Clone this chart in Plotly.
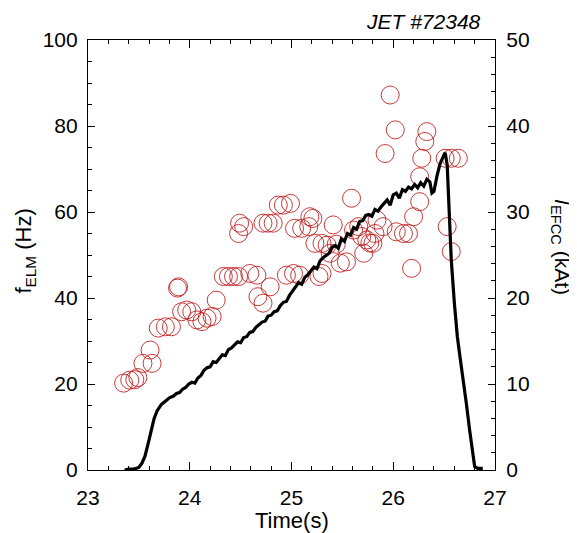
import plotly.graph_objects as go

# ---- data ----
elm_time = [23.35, 23.41, 23.46, 23.49, 23.54, 23.63, 23.61, 23.69, 23.76, 23.82,
            23.89, 23.88, 23.92, 23.97, 24.02, 24.07, 24.12, 24.17, 24.22, 24.26,
            24.33, 24.38, 24.43, 24.48, 24.48, 24.49, 24.53, 24.59, 24.66, 24.67,
            24.72, 24.79, 24.72, 24.77, 24.82, 24.87, 24.92, 24.99, 24.95, 25.02,
            25.08, 25.03, 25.10, 25.17, 25.18, 25.21, 25.23, 25.30, 25.35, 25.30,
            25.41, 25.38, 25.48, 25.54, 25.59, 25.61, 25.66, 25.69, 25.74, 25.71,
            25.77, 25.82, 25.84, 25.97, 26.02, 25.92, 26.33, 26.31, 26.28, 26.26,
            26.26, 26.20, 26.51, 26.57, 26.64, 26.53, 26.57, 26.18, 26.03, 26.10,
            26.15, 25.90, 25.80, 25.44, 25.27]
elm_freq = [20.2, 20.9, 21.0, 21.5, 24.8, 24.8, 27.9, 33.0, 33.3, 33.3,
            42.6, 42.3, 36.8, 37.2, 36.8, 34.9, 34.5, 35.3, 35.7, 39.5,
            45.0, 45.0, 45.0, 45.0, 55.0, 57.4, 56.6, 45.7, 45.3, 40.3,
            38.8, 42.6, 57.4, 57.4, 57.4, 61.6, 61.6, 62.0, 45.3, 45.7,
            45.3, 56.2, 56.2, 56.6, 58.9, 58.5, 52.7, 52.7, 52.3, 45.7,
            57.0, 50.4, 48.1, 48.4, 63.2, 55.8, 56.6, 54.3, 53.5, 50.4,
            52.8, 55.0, 58.1, 87.2, 79.1, 73.6, 78.7, 76.4, 72.5, 68.2,
            62.4, 58.9, 72.5, 72.5, 72.5, 56.6, 50.8, 46.9, 55.4, 55.0,
            55.0, 56.6, 52.7, 52.5, 45.0]

efcc_time = [23.36, 23.40, 23.45, 23.50, 23.53, 23.56, 23.59, 23.62, 23.65, 23.68,
             23.72, 23.76, 23.80, 23.84, 23.87, 23.90, 23.93, 23.96, 23.99, 24.02,
             24.05, 24.08, 24.11, 24.14, 24.17, 24.20, 24.23, 24.26, 24.29, 24.32,
             24.35, 24.38, 24.41, 24.44, 24.47, 24.50, 24.53, 24.56, 24.59, 24.62,
             24.65, 24.68, 24.71, 24.74, 24.77, 24.80, 24.83, 24.86, 24.89, 24.92,
             24.95, 24.98, 25.01, 25.04, 25.07, 25.10, 25.13, 25.16, 25.19, 25.22,
             25.25, 25.28, 25.31, 25.34, 25.37, 25.40, 25.43, 25.46, 25.49, 25.52,
             25.55, 25.58, 25.61, 25.64, 25.67, 25.70, 25.73, 25.76, 25.79, 25.82,
             25.85, 25.88, 25.91, 25.94, 25.97, 26.00, 26.03, 26.06, 26.09, 26.12,
             26.15, 26.18, 26.21, 26.24, 26.27, 26.30, 26.33, 26.36, 26.38, 26.40,
             26.43, 26.46, 26.49, 26.51, 26.53, 26.55, 26.57, 26.60, 26.63, 26.66,
             26.69, 26.72, 26.75, 26.78, 26.80, 26.83, 26.88]
efcc_current = [0.0, 0.1, 0.1, 0.3, 0.8, 1.6, 3.0, 4.6, 6.0, 6.9,
                7.6, 8.0, 8.4, 8.6, 8.9, 9.0, 9.4, 9.6, 10.0, 10.2,
                10.1, 10.7, 11.0, 11.6, 11.9, 12.0, 12.6, 12.5, 12.9, 13.4,
                13.3, 14.0, 14.2, 14.6, 14.9, 14.8, 15.4, 15.5, 16.0, 16.1,
                16.6, 16.9, 17.2, 17.3, 17.9, 18.0, 18.4, 18.5, 19.1, 19.5,
                19.6, 20.3, 20.8, 21.2, 21.8, 21.6, 22.4, 22.7, 23.2, 23.6,
                23.4, 24.3, 24.7, 25.0, 25.2, 25.9, 26.1, 25.8, 26.9, 26.6,
                27.5, 27.3, 28.2, 28.0, 28.9, 29.0, 29.6, 29.7, 29.5, 30.3,
                30.1, 30.6, 31.0, 31.4, 30.8, 32.0, 32.2, 31.6, 32.6, 32.4,
                32.9, 32.7, 33.2, 32.8, 33.4, 33.0, 33.8, 33.5, 32.2, 32.4,
                34.2, 35.6, 36.4, 36.9, 35.5, 30.0, 24.5, 19.5, 15.5, 12.8,
                10.5, 7.6, 4.7, 2.0, 0.4, 0.2, 0.2]

x_ticks = [23, 24, 25, 26, 27]
left_ticks = [0, 20, 40, 60, 80, 100]
right_ticks = [0, 10, 20, 30, 40, 50]

FONT = "Liberation Sans, Arial, sans-serif"

fig = go.Figure()
fig.add_trace(go.Scatter(
    x=elm_time, y=elm_freq, mode="markers",
    marker=dict(symbol="circle-open", size=18, color="rgba(190,25,25,0.85)",
                line=dict(width=1, color="rgba(190,25,25,0.85)")),
    yaxis="y", showlegend=False))
fig.add_trace(go.Scatter(
    x=efcc_time, y=efcc_current, mode="lines",
    line=dict(color="black", width=3.2),
    yaxis="y2", showlegend=False))

axis_common = dict(showline=True, linecolor="black", linewidth=1.2,
                   showgrid=False, zeroline=False, ticks="inside",
                   tickcolor="black", tickfont=dict(family=FONT, size=21, color="black"))

fig.update_layout(
    width=569, height=525,
    margin=dict(l=80, r=82, t=32, b=63),
    paper_bgcolor="white", plot_bgcolor="white",
    xaxis=dict(range=[23, 27], tickvals=x_ticks, ticklen=8, mirror="ticks",
               ticklabelstandoff=9,
               minor=dict(dtick=0.2, ticklen=4, ticks="inside", tickcolor="black"),
               **axis_common),
    yaxis=dict(range=[0, 100], tickvals=left_ticks, ticklen=7, ticklabelstandoff=5,
               minor=dict(dtick=5, ticklen=4, ticks="inside", tickcolor="black"),
               **axis_common),
    yaxis2=dict(range=[0, 50], tickvals=right_ticks, ticklen=7, overlaying="y", side="right",
                ticklabelstandoff=6,
                minor=dict(dtick=2, ticklen=4, ticks="inside", tickcolor="black"),
                **axis_common),
    annotations=[
        dict(text="<i>JET #72348</i>", x=0.9705, y=1.042, xref="paper", yref="paper",
             xanchor="right", yanchor="middle", showarrow=False,
             font=dict(family=FONT, size=21, color="black")),
        dict(text="Time(s)", x=0.5, y=-0.1186, xref="paper", yref="paper",
             xanchor="center", yanchor="middle", showarrow=False,
             font=dict(family=FONT, size=22, color="black")),
        dict(text="f<sub>ELM</sub> (Hz)", x=-0.155, y=0.51, xref="paper", yref="paper",
             xanchor="center", yanchor="middle", showarrow=False, textangle=-90,
             font=dict(family=FONT, size=22, color="black")),
        dict(text="<i>I</i><sub>EFCC</sub> (kAt)", x=1.162, y=0.5186, xref="paper", yref="paper",
             xanchor="center", yanchor="middle", showarrow=False, textangle=90,
             font=dict(family=FONT, size=21, color="black")),
    ],
)

fig.write_html("out.html")
